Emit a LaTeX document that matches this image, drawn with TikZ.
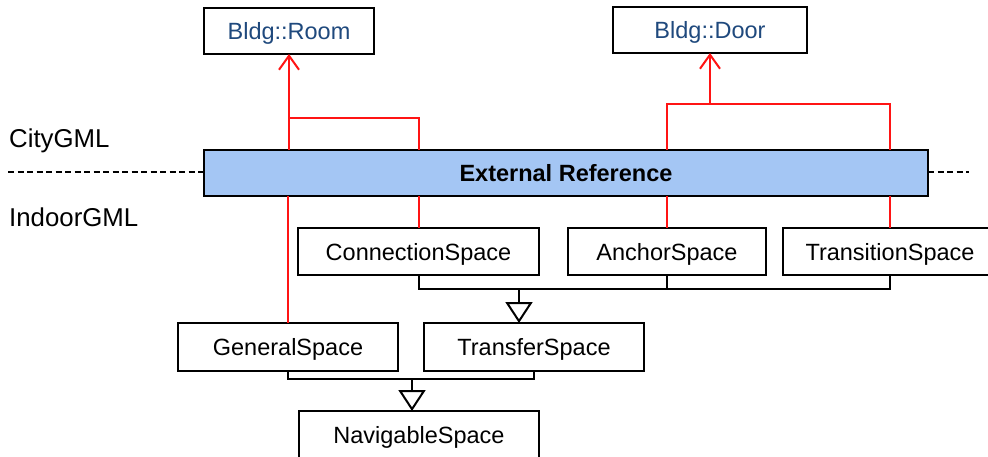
\documentclass[tikz,border=0pt]{standalone}
\usepackage{fontspec}
\setmainfont{Liberation Sans}
\usetikzlibrary{arrows.meta}
\definecolor{extfill}{RGB}{164,198,244}
\definecolor{bldgblue}{RGB}{31,73,125}
\definecolor{refred}{RGB}{255,20,20}
\begin{document}
\begin{tikzpicture}[x=1pt,y=-1pt,
  box/.style={draw=black, line width=2pt, fill=white, inner sep=0pt, outer sep=0pt,
    text depth=0pt, font=\fontsize{23.5}{28}\selectfont},
  refline/.style={draw=refred, line width=2pt},
  genline/.style={draw=black, line width=2pt},
  reftip/.style={-{Straight Barb[length=14pt,width=20pt,line width=2pt]}},
  gentip/.style={-{Triangle[open,length=21pt,width=27pt,line width=2pt]}},
  sep/.style={draw=black, line width=1.5pt, dash pattern=on 6pt off 3.5pt},
  lbl/.style={anchor=west, inner sep=0pt, text depth=0pt, font=\fontsize{25.8}{30}\selectfont}]
\useasboundingbox (0,0) rectangle (988,456);
\clip (0,0) rectangle (988,456);

% nodes
\node[box, minimum width=170pt, minimum height=46pt, text=bldgblue] (room) at (289,31) {Bldg::Room};
\node[box, minimum width=194pt, minimum height=46pt, text=bldgblue] (door) at (710,30) {Bldg::Door};
\node[box, fill=extfill, minimum width=724pt, minimum height=46pt, font=\fontsize{23.5}{28}\selectfont\bfseries] (ext) at (566,173) {External Reference};
\node[box, minimum width=241pt, minimum height=47pt] (conn) at (418.5,251.5) {ConnectionSpace};
\node[box, minimum width=198pt, minimum height=47pt] (anchor) at (667,251.5) {AnchorSpace};
\node[box, minimum width=214pt, minimum height=47pt] (trans) at (890,251.5) {TransitionSpace};
\node[box, minimum width=220pt, minimum height=48pt] (gen) at (288,347) {GeneralSpace};
\node[box, minimum width=220pt, minimum height=48pt] (transfer) at (534,347) {TransferSpace};
\node[box, minimum width=240pt, minimum height=47pt] (nav) at (419,434.5) {NavigableSpace};

\node[lbl] (city) at (9,138) {CityGML};
\node[lbl] (indoor) at (9,217) {IndoorGML};

% separator
\coordinate (dl) at (8,172);
\coordinate (dr) at (969,172);
\draw[sep] (dl) -- (dl -| ext.west);
\draw[sep] (dr -| ext.east) -- (dr);

% red external references
\coordinate (rj) at (289,118);
\coordinate (dj) at (710,104);
\draw[refline, reftip] (ext.north -| room.south) -- (room.south);
\draw[refline] (ext.north -| conn.north) |- (rj);
\draw[refline] (gen.north |- ext.south) -- (gen.north);
\draw[refline] (conn.north |- ext.south) -- (conn.north);
\draw[refline, reftip] (dj) -- (door.south);
\draw[refline] (ext.north -| anchor.north) |- (dj) -| (ext.north -| trans.north);
\draw[refline] (anchor.north |- ext.south) -- (anchor.north);
\draw[refline] (trans.north |- ext.south) -- (trans.north);

% generalizations
\coordinate (tj) at (519,289);
\draw[genline] (conn.south) |- (tj) -| (trans.south);
\draw[genline] (anchor.south) -- (anchor.south |- tj);
\draw[genline, gentip] (tj) -- (tj |- transfer.north);

\coordinate (nj) at (412,379);
\draw[genline] (gen.south) |- (nj) -| (transfer.south);
\draw[genline, gentip] (nj) -- (nj |- nav.north);
\end{tikzpicture}
\end{document}
